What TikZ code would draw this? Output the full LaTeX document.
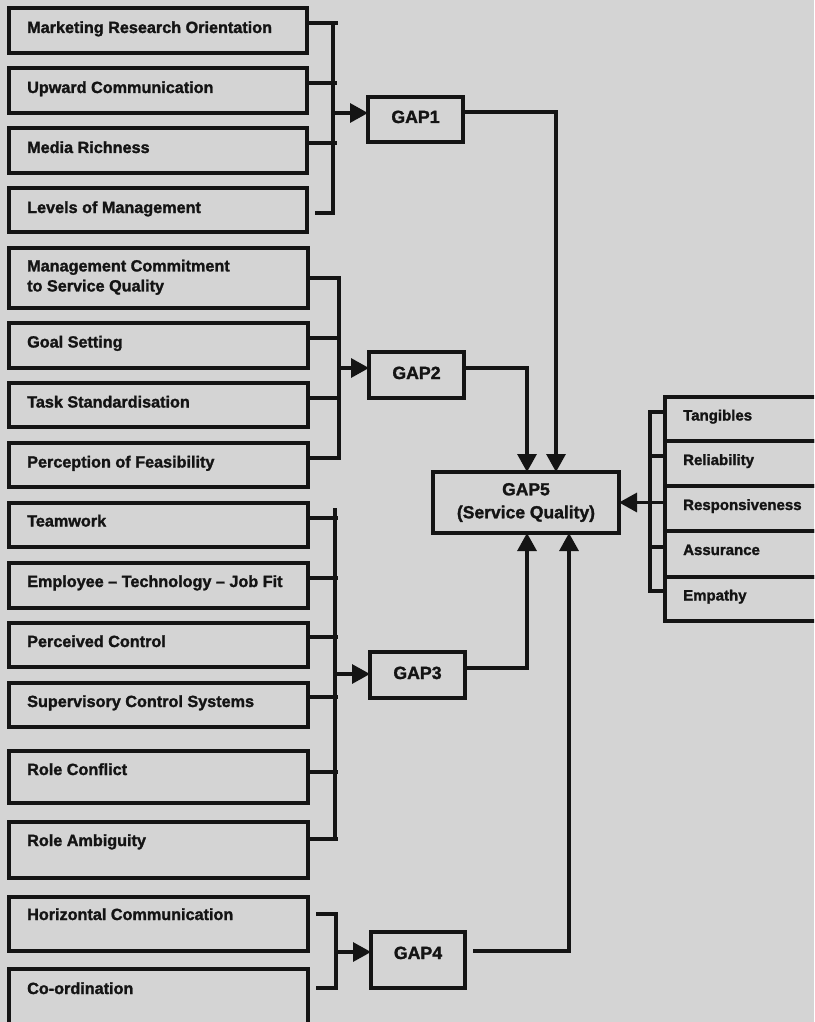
\documentclass[tikz,border=0pt]{standalone}
\usepackage{fontspec}
\setmainfont{Liberation Sans}[BoldFeatures={FakeBold=1.6}]
\usetikzlibrary{arrows.meta,calc}
\definecolor{paper}{RGB}{212,212,212}
\definecolor{ink}{RGB}{20,20,20}

\begin{document}
\begin{tikzpicture}[x=1pt,y=-1pt,
  wire/.style={draw=ink, line width=3.2pt},
  arrow/.style={wire, -{Triangle[length=18pt,width=19pt]}},
  factor/.style={draw=ink, line width=3.2pt, rectangle, inner sep=0pt, outer sep=0pt,
    anchor=north west, minimum width=299pt},
  lbl/.style={anchor=base west, inner sep=0pt, text=ink,
    font=\bfseries\fontsize{16.2}{20}\selectfont},
  gapbox/.style={draw=ink, line width=3.2pt, rectangle, inner sep=0pt, outer sep=0pt,
    anchor=north west, text=ink, align=center, text height=13pt,
    font=\bfseries\fontsize{17.7}{23}\selectfont},
  dimbox/.style={factor, minimum width=170pt},
  dimlbl/.style={lbl, font=\bfseries\fontsize{15}{18}\selectfont},
]
\useasboundingbox (0,0) rectangle (814,1022);
\fill[paper] (0,0) rectangle (814,1022);
\clip (0,0) rectangle (814,1022);

% ---------- factors of GAP1 ----------
\node[factor, minimum width=298pt, minimum height=45pt] (mro) at (9,8) {};
\node[factor, minimum width=298pt, minimum height=45pt] (upc) at (9,68) {};
\node[factor, minimum width=298pt, minimum height=45pt] (mri) at (9,128) {};
\node[factor, minimum width=298pt, minimum height=44pt] (lom) at (9,188) {};
\node[lbl] (mro-t) at ($(mro.north west)+(18,25)$) {Marketing Research Orientation};
\node[lbl] (upc-t) at ($(upc.north west)+(18,25)$) {Upward Communication};
\node[lbl] (mri-t) at ($(mri.north west)+(18,25)$) {Media Richness};
\node[lbl] (lom-t) at ($(lom.north west)+(18,25)$) {Levels of Management};

% ---------- factors of GAP2 ----------
\node[factor, minimum height=60pt] (mcs) at (9,248) {};
\node[factor, minimum height=45pt] (gos) at (9,323) {};
\node[factor, minimum height=44pt] (tst) at (9,383) {};
\node[factor, minimum height=44pt] (pof) at (9,443) {};
\node[lbl, anchor=north west, align=left] (mcs-t) at ($(mcs.north west)+(18,11.5)$)
  {Management Commitment\\to Service Quality};
\node[lbl] (gos-t) at ($(gos.north west)+(18,24.5)$) {Goal Setting};
\node[lbl] (tst-t) at ($(tst.north west)+(18,24.5)$) {Task Standardisation};
\node[lbl] (pof-t) at ($(pof.north west)+(18,24.5)$) {Perception of Feasibility};

% ---------- factors of GAP3 ----------
\node[factor, minimum height=44pt] (tmw) at (9,503) {};
\node[factor, minimum height=45pt] (etj) at (9,563) {};
\node[factor, minimum height=44pt] (pco) at (9,623) {};
\node[factor, minimum height=44pt] (scs) at (9,683) {};
\node[factor, minimum height=52pt] (rco) at (9,751) {};
\node[factor, minimum height=56pt] (ram) at (9,822) {};
\node[lbl] (tmw-t) at ($(tmw.north west)+(18,23.5)$) {Teamwork};
\node[lbl] (etj-t) at ($(etj.north west)+(18,24)$) {Employee -- Technology -- Job Fit};
\node[lbl] (pco-t) at ($(pco.north west)+(18,24)$) {Perceived Control};
\node[lbl] (scs-t) at ($(scs.north west)+(18,24)$) {Supervisory Control Systems};
\node[lbl] (rco-t) at ($(rco.north west)+(18,24)$) {Role Conflict};
\node[lbl] (ram-t) at ($(ram.north west)+(18,24)$) {Role Ambiguity};

% ---------- factors of GAP4 ----------
\node[factor, minimum height=54pt] (hco) at (9,897) {};
\node[factor, minimum height=70pt] (cod) at (9,969) {};
\node[lbl] (hco-t) at ($(hco.north west)+(18,23)$) {Horizontal Communication};
\node[lbl] (cod-t) at ($(cod.north west)+(18,25)$) {Co-ordination};

% ---------- gaps ----------
\node[gapbox, minimum width=95pt, minimum height=45pt, text depth=6pt] (gap1) at (368,97) {GAP1};
\node[gapbox, minimum width=95pt, minimum height=46pt, text depth=5pt] (gap2) at (369,352) {GAP2};
\node[gapbox, minimum width=95pt, minimum height=46pt, text depth=5pt] (gap3) at (370,652) {GAP3};
\node[gapbox, minimum width=94pt, minimum height=56pt, text depth=15pt] (gap4) at (371,932) {GAP4};
\node[gapbox, minimum width=186pt, minimum height=61pt, text height=, font=\bfseries\fontsize{17.5}{23}\selectfont]
  (gap5) at (433,472) {GAP5\\(Service Quality)};

% ---------- service quality dimensions ----------
\node[dimbox, minimum height=44pt] (tan) at (665,397) {};
\node[dimbox, minimum height=45pt] (rel) at (665,441) {};
\node[dimbox, minimum height=45pt] (res) at (665,486) {};
\node[dimbox, minimum height=46pt] (ass) at (665,531) {};
\node[dimbox, minimum height=44pt] (emp) at (665,577) {};
\node[dimlbl] (tan-t) at ($(tan.north west)+(18,23.5)$) {Tangibles};
\node[dimlbl] (rel-t) at ($(rel.north west)+(18,24)$) {Reliability};
\node[dimlbl] (res-t) at ($(res.north west)+(18,24)$) {Responsiveness};
\node[dimlbl] (ass-t) at ($(ass.north west)+(18,24)$) {Assurance};
\node[dimlbl] (emp-t) at ($(emp.north west)+(18,23.5)$) {Empathy};

% ---------- bracket into GAP1 ----------
\draw[wire] ($(mro.north east)+(0,15)$) -- ++(31,0);
\draw[wire] ($(mro.north east)+(26,15)$) -- ($(lom.north east)+(26,25)$) -- ($(lom.north east)+(8,25)$);
\draw[wire] ($(upc.north east)+(0,15)$) -- ++(30,0);
\draw[wire] ($(mri.north east)+(0,15)$) -- ++(30,0);
\coordinate (j1) at ($(upc.north east)+(26,45)$);
\draw[arrow] (j1) -- (gap1.west |- j1);

% ---------- bracket into GAP2 ----------
\draw[wire] ($(mcs.north east)+(0,30)$) -- ++(31,0) -- ($(pof.north east)+(31,15)$) -- ($(pof.north east)+(0,15)$);
\draw[wire] ($(gos.north east)+(0,15)$) -- ++(31,0);
\draw[wire] ($(tst.north east)+(0,15)$) -- ++(31,0);
\coordinate (j2) at ($(mcs.north east)+(31,120)$);
\draw[arrow] (j2) -- (gap2.west |- j2);

% ---------- bracket into GAP3 ----------
\draw[wire] ($(tmw.north east)+(27,5)$) -- ($(ram.north east)+(27,18)$);
\draw[wire] ($(tmw.north east)+(0,15)$) -- ++(30,0);
\draw[wire] ($(etj.north east)+(0,15)$) -- ++(30,0);
\draw[wire] ($(pco.north east)+(0,14)$) -- ++(30,0);
\draw[wire] ($(scs.north east)+(0,14)$) -- ++(30,0);
\draw[wire] ($(rco.north east)+(0,21)$) -- ++(30,0);
\draw[wire] ($(ram.north east)+(0,17)$) -- ++(30,0);
\coordinate (j3) at ($(tmw.north east)+(27,171)$);
\draw[arrow] (j3) -- (gap3.west |- j3);

% ---------- bracket into GAP4 ----------
\draw[wire] ($(hco.north east)+(8,17)$) -- ++(20,0) |- ($(cod.north east)+(8,19)$);
\coordinate (j4) at ($(hco.north east)+(28,55)$);
\draw[arrow] (j4) -- (gap4.west |- j4);

% ---------- gaps into GAP5 ----------
\draw[arrow] ($(gap1.north east)+(0,15)$) -| ($(gap5.north west)+(123,0)$);
\draw[arrow] ($(gap2.north east)+(0,16)$) -| ($(gap5.north west)+(94,0)$);
\draw[arrow] ($(gap3.north east)+(0,16)$) -| ($(gap5.south west)+(94,0)$);
\draw[arrow] ($(gap4.north east)+(8,19)$) -| ($(gap5.south west)+(136,0)$);

% ---------- dimensions into GAP5 ----------
\draw[wire] ($(tan.north west)+(0,15)$) -- ++(-15,0) |- ($(emp.north west)+(0,14)$);
\draw[wire] ($(rel.north west)+(0,15)$) -- ++(-15,0);
\draw[wire] ($(ass.north west)+(0,16)$) -- ++(-15,0);
\draw[arrow] ($(res.north west)+(0,16.5)$) -- (gap5.east);
\end{tikzpicture}
\end{document}
